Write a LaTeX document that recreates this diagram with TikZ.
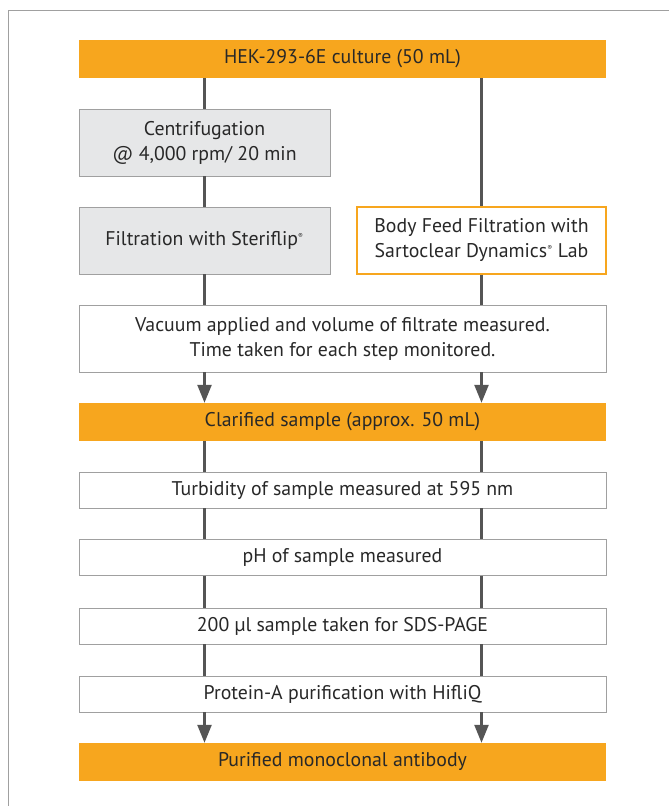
\documentclass[tikz,border=0pt]{standalone}
\usepackage{fontspec}
\setmainfont{PT Sans}
\usetikzlibrary{arrows.meta}
\definecolor{sartOrange}{RGB}{247, 166, 30}
\definecolor{sartGrey}{RGB}{230, 231, 232}
\definecolor{sartLine}{RGB}{85, 85, 85}
\definecolor{sartBorder}{RGB}{160, 160, 160}
\definecolor{sartText}{RGB}{40, 40, 40}

\begin{document}
\begin{tikzpicture}[x=1pt, y=-1pt]
            \tikzstyle{barbox} = [rectangle, draw=none, fill=sartOrange, text=sartText, minimum width=527pt, minimum height=38pt, inner sep=0pt, font=\fontsize{19.8}{25}\selectfont]
            \tikzstyle{greybox} = [rectangle, draw=sartBorder, fill=sartGrey, text=sartText, minimum width=251pt, minimum height=67pt, inner sep=0pt, align=center, font=\fontsize{19.8}{25}\selectfont]
            \tikzstyle{feedbox} = [rectangle, draw=sartOrange, line width=1.2pt, fill=white, text=sartText, minimum width=249pt, minimum height=67pt, inner sep=0pt, align=center, font=\fontsize{19.8}{25}\selectfont]
            \tikzstyle{stepbox} = [rectangle, draw=sartBorder, fill=white, text=sartText, minimum width=527pt, minimum height=36pt, inner sep=0pt, align=center, font=\fontsize{19.8}{25}\selectfont]
            \tikzstyle{link} = [draw=sartLine, line width=2.4pt]
            \tikzstyle{flow} = [link, -{Triangle[width=14pt, length=18pt]}]

            \useasboundingbox (0,0) rectangle (669,806);
            \draw[sartBorder, line width=1pt] (8.5,806) -- (8.5,10.5) -- (669,10.5);

            \node[barbox] (culture) at (342.5, 59) {HEK-293-6E culture (50 mL)};
            \node[greybox] (centri) at (204.5, 142.5) {Centrifugation\\@ 4,000 rpm/ 20 min};
            \node[greybox] (steri) at (204.5, 240.5) {Filtration with Steriflip\textsuperscript{\scriptsize ®}};
            \node[feedbox] (feed) at (481.5, 240.5) {Body Feed Filtration with\\Sartoclear Dynamics\textsuperscript{\scriptsize ®} Lab};
            \node[stepbox, minimum height=67pt] (vacuum) at (342.5, 338.5) {Vacuum applied and volume of filtrate measured.\\Time taken for each step monitored.};
            \node[barbox] (clarified) at (342.5, 422) {Clarified sample (approx. 50 mL)};
            \node[stepbox] (turb) at (342.5, 490) {Turbidity of sample measured at 595 nm};
            \node[stepbox] (ph) at (342.5, 557.5) {pH of sample measured};
            \node[stepbox] (sds) at (342.5, 626) {200 µl sample taken for SDS-PAGE};
            \node[stepbox] (protA) at (342.5, 694) {Protein-A purification with HifliQ};
            \node[barbox] (purified) at (342.5, 762) {Purified monoclonal antibody};

            % left and right branches
            \draw[link] (centri |- culture.south) -- (centri.north);
            \draw[link] (centri.south) -- (steri.north);
            \draw[link] (steri.south) -- (steri.south |- vacuum.north);
            \draw[link] (feed |- culture.south) -- (feed.north);
            \draw[link] (feed.south) -- (feed.south |- vacuum.north);
            \draw[flow] (steri.south |- vacuum.south) -- (steri.south |- clarified.north);
            \draw[flow] (feed.south |- vacuum.south) -- (feed.south |- clarified.north);

            % common steps
            \foreach \from/\to in {clarified/turb, turb/ph, ph/sds, sds/protA} {
                \draw[link] (steri.south |- \from.south) -- (steri.south |- \to.north);
                \draw[link] (feed.south |- \from.south) -- (feed.south |- \to.north);
            }
            \draw[flow] (steri.south |- protA.south) -- (steri.south |- purified.north);
            \draw[flow] (feed.south |- protA.south) -- (feed.south |- purified.north);
        \end{tikzpicture}
\end{document}
